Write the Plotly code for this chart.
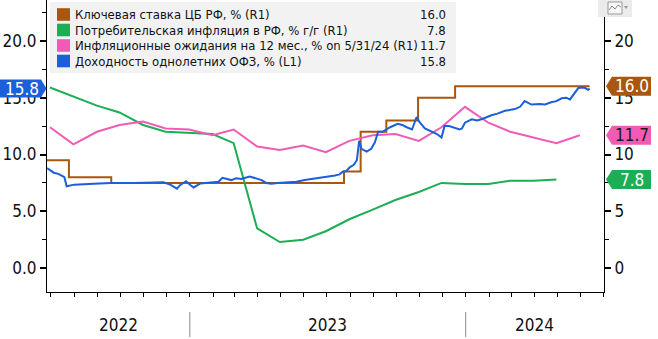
import plotly.graph_objects as go

# ---------------- data ----------------
key_rate_dates = ["2022-06-26", "2022-07-25", "2022-09-19", "2023-07-24", "2023-08-15",
                  "2023-09-18", "2023-10-30", "2023-12-18", "2024-06-13"]
key_rate_values = [9.5, 8.0, 7.5, 8.5, 12.0, 13.0, 15.0, 16.0, 16.0]

cpi_dates = ["2022-06-30", "2022-07-31", "2022-08-31", "2022-09-30", "2022-10-31", "2022-11-30",
             "2022-12-31", "2023-01-31", "2023-02-28", "2023-03-31", "2023-04-30", "2023-05-31",
             "2023-06-30", "2023-07-31", "2023-08-31", "2023-09-30", "2023-10-31", "2023-11-30",
             "2023-12-31", "2024-01-31", "2024-02-29", "2024-03-31", "2024-04-30"]
cpi_values = [15.9, 15.1, 14.3, 13.7, 12.6, 12.0, 11.9, 11.8, 11.0, 3.5, 2.3, 2.5,
              3.25, 4.3, 5.15, 6.0, 6.7, 7.5, 7.4, 7.4, 7.7, 7.7, 7.8]

exp_dates = ["2022-06-30", "2022-07-31", "2022-08-31", "2022-09-30", "2022-10-31", "2022-11-30",
             "2022-12-31", "2023-01-31", "2023-02-28", "2023-03-31", "2023-04-30", "2023-05-31",
             "2023-06-30", "2023-07-31", "2023-08-31", "2023-09-30", "2023-10-31", "2023-11-30",
             "2023-12-31", "2024-01-31", "2024-02-29", "2024-03-31", "2024-04-30", "2024-05-31"]
exp_values = [12.4, 10.9, 12.0, 12.6, 12.9, 12.3, 12.2, 11.7, 12.2, 10.7, 10.4, 10.8,
              10.2, 11.2, 11.7, 11.8, 11.2, 12.4, 14.2, 12.8, 12.0, 11.5, 11.0, 11.7]

ofz_dates = ["2022-06-26", "2022-07-01", "2022-07-05", "2022-07-11", "2022-07-15", "2022-07-19",
             "2022-07-22", "2022-07-26", "2022-08-01", "2022-08-20", "2022-09-18", "2022-10-20",
             "2022-11-27", "2022-12-06", "2022-12-15", "2022-12-19", "2022-12-27", "2023-01-02",
             "2023-01-06", "2023-01-15", "2023-02-03", "2023-02-08", "2023-02-13", "2023-02-19",
             "2023-02-25", "2023-03-03", "2023-03-10", "2023-03-21", "2023-03-28", "2023-04-06",
             "2023-04-12", "2023-04-19", "2023-04-27", "2023-05-11", "2023-05-22", "2023-06-02",
             "2023-06-13", "2023-06-24", "2023-07-05", "2023-07-12", "2023-07-18", "2023-07-23",
             "2023-07-27", "2023-08-01", "2023-08-06", "2023-08-10", "2023-08-13", "2023-08-16",
             "2023-08-23", "2023-08-29", "2023-09-03", "2023-09-07", "2023-09-13", "2023-09-23",
             "2023-10-03", "2023-10-09", "2023-10-15", "2023-10-22", "2023-10-28", "2023-11-01",
             "2023-11-08", "2023-11-17", "2023-11-24", "2023-11-30", "2023-12-04", "2023-12-10",
             "2023-12-15", "2023-12-24", "2023-12-27", "2023-12-31", "2024-01-09", "2024-01-16",
             "2024-01-22", "2024-01-29", "2024-02-04", "2024-02-12", "2024-02-22", "2024-03-06",
             "2024-03-13", "2024-03-19", "2024-03-28", "2024-04-08", "2024-04-15", "2024-04-23",
             "2024-04-30", "2024-05-07", "2024-05-13", "2024-05-18", "2024-05-25", "2024-05-29",
             "2024-06-03", "2024-06-07", "2024-06-11", "2024-06-13"]
ofz_values = [8.8, 8.6, 8.4, 8.3, 8.15, 8.0,
              7.2, 7.25, 7.35, 7.4, 7.5, 7.5,
              7.55, 7.35, 7.0, 7.3, 7.65, 7.3,
              7.1, 7.45, 7.55, 7.6, 7.95, 7.85,
              7.75, 7.9, 7.85, 8.07, 7.9, 7.75,
              7.5, 7.42, 7.5, 7.55, 7.6, 7.75,
              7.85, 8.0, 8.05, 8.15, 8.25, 8.5,
              8.55, 8.9, 9.1, 9.5, 11.2, 10.5,
              10.26, 10.5, 11.1, 12.0, 12.0, 12.4,
              12.7, 12.6, 12.4, 12.2, 13.3, 12.85,
              12.3, 12.0, 11.8, 11.5, 12.5, 12.5,
              12.4, 12.2, 12.3, 12.8, 13.1, 13.0,
              13.1, 13.3, 13.45, 13.6, 13.85, 14.0,
              14.2, 14.7, 14.4, 14.45, 14.4, 14.6,
              14.7, 14.95, 15.0, 14.85, 15.5, 15.85,
              15.9, 15.85, 15.7, 15.8]

series_names = ["Ключевая ставка ЦБ РФ, % (R1)",
                "Потребительская инфляция в РФ, % г/г (R1)",
                "Инфляционные ожидания на 12 мес., % on 5/31/24 (R1)",
                "Доходность однолетних ОФЗ, % (L1)"]
series_colors = ["#A9560E", "#1DAE55", "#F15BB5", "#1C5FDA"]
badge_text_colors = ["#FFFFFF", "#FFFFFF", "#1A1A1A", "#FFFFFF"]

year_labels = ["2022", "2023", "2024"]
year_bounds = ["2022-06-26", "2023-01-01", "2024-01-01", "2024-07-02"]

left_ticks = [0, 5, 10, 15, 20]
right_ticks = [0, 5, 10, 15, 20]

FONT = "DejaVu Sans Condensed, Liberation Sans, Arial, sans-serif"
Y_RANGE = [-2.1, 23.6]

# ---------------- figure ----------------
fig = go.Figure()

fig.add_trace(go.Scatter(x=key_rate_dates, y=key_rate_values, mode="lines", line_shape="hv",
                         line=dict(color=series_colors[0], width=2), yaxis="y", name=series_names[0]))
fig.add_trace(go.Scatter(x=cpi_dates, y=cpi_values, mode="lines",
                         line=dict(color=series_colors[1], width=2), yaxis="y", name=series_names[1]))
fig.add_trace(go.Scatter(x=exp_dates, y=exp_values, mode="lines",
                         line=dict(color=series_colors[2], width=2), yaxis="y", name=series_names[2]))
fig.add_trace(go.Scatter(x=ofz_dates, y=ofz_values, mode="lines",
                         line=dict(color=series_colors[3], width=2), yaxis="y2", name=series_names[3]))

last_values = [key_rate_values[-1], cpi_values[-1], exp_values[-1], ofz_values[-1]]

fig.update_layout(
    width=658, height=339, autosize=False,
    margin=dict(l=47, r=54, t=0, b=47, pad=0),
    paper_bgcolor="white", plot_bgcolor="white",
    showlegend=False,
    font=dict(family=FONT, size=17, color="#111111"),
    xaxis=dict(
        type="date", range=[year_bounds[0], year_bounds[-1]],
        showgrid=False, zeroline=False, showline=True, linecolor="#000000", linewidth=1,
        ticks="outside", ticklen=4, tickwidth=1, tickcolor="#000000",
        dtick="M1", tick0="2022-07-01", showticklabels=False,
    ),
    yaxis=dict(  # right axis (R1)
        side="right", range=Y_RANGE, tickvals=right_ticks, ticktext=[str(v) for v in right_ticks],
        showgrid=False, zeroline=False, showline=True, linecolor="#000000", linewidth=1,
        ticks="outside", ticklen=6, tickwidth=2, tickcolor="#000000",
        minor=dict(tickvals=[2.5, 7.5, 12.5, 17.5, 22.5], ticks="outside", ticklen=4,
                   tickwidth=1, tickcolor="#000000"),
        tickfont=dict(size=17, family=FONT, color="#111111"),
    ),
    yaxis2=dict(  # left axis (L1)
        side="left", overlaying="y", range=Y_RANGE, tickvals=left_ticks,
        ticktext=["%.1f" % v for v in left_ticks],
        showgrid=False, zeroline=False, showline=True, linecolor="#000000", linewidth=1,
        ticks="outside", ticklen=6, tickwidth=2, tickcolor="#000000",
        minor=dict(tickvals=[2.5, 7.5, 12.5, 17.5, 22.5], ticks="outside", ticklen=4,
                   tickwidth=1, tickcolor="#000000"),
        tickfont=dict(size=17, family=FONT, color="#111111"),
    ),
)

shapes = []
annotations = []

# legend box
shapes.append(dict(type="rect", xref="paper", yref="paper", xsizemode="pixel", ysizemode="pixel",
                   xanchor=0, yanchor=1, x0=3, x1=409, y0=-2, y1=-73,
                   fillcolor="#F2F2F2", line=dict(width=0), layer="above"))
row_centers = [14.5, 30, 45.5, 61]
for i, name in enumerate(series_names):
    c = row_centers[i]
    shapes.append(dict(type="rect", xref="paper", yref="paper", xsizemode="pixel", ysizemode="pixel",
                       xanchor=0, yanchor=1, x0=10, x1=23, y0=-(c - 6.3), y1=-(c + 6.3),
                       fillcolor=series_colors[i], line=dict(width=0), layer="above"))
    annotations.append(dict(text=name, xref="paper", yref="paper", x=0, y=1, xshift=26,
                            yshift=-c, xanchor="left", yanchor="middle", showarrow=False,
                            font=dict(size=13, family=FONT, color="#111111")))
    annotations.append(dict(text="%.1f" % last_values[i], xref="paper", yref="paper", x=0, y=1,
                            xshift=401, yshift=-c, xanchor="right", yanchor="middle",
                            showarrow=False, font=dict(size=13, family=FONT, color="#111111")))

# value badges on the right axis (R1 series)
for i in range(3):
    v = last_values[i]
    shapes.append(dict(type="path", xref="paper", yref="y", xsizemode="pixel", ysizemode="pixel",
                       xanchor=1, yanchor=v, path="M2,0 L8,9.5 L47,9.5 L47,-9.5 L8,-9.5 Z",
                       fillcolor=series_colors[i], line=dict(width=0), layer="above"))
    annotations.append(dict(text="%.1f" % v, xref="paper", yref="y", x=1, y=v, xshift=28,
                            xanchor="center", yanchor="middle", showarrow=False,
                            font=dict(size=17, family=FONT, color=badge_text_colors[i])))

# value badge on the left axis (L1 series)
v = last_values[3]
shapes.append(dict(type="path", xref="paper", yref="y2", xsizemode="pixel", ysizemode="pixel",
                   xanchor=0, yanchor=v, path="M-47,-9 L-6,-9 L-0.5,0 L-6,9 L-47,9 Z",
                   fillcolor=series_colors[3], line=dict(width=0), layer="above"))
annotations.append(dict(text="%.1f" % v, xref="paper", yref="y2", x=0, y=v, xshift=-25,
                        xanchor="center", yanchor="middle", showarrow=False,
                        font=dict(size=17, family=FONT, color=badge_text_colors[3])))

# year labels and separators under the axis
import pandas as pd
for i, lab in enumerate(year_labels):
    a = pd.Timestamp(year_bounds[i])
    b = pd.Timestamp(year_bounds[i + 1])
    mid = a + (b - a) / 2
    annotations.append(dict(text=lab, xref="x", yref="paper", x=mid.strftime("%Y-%m-%d %H:%M"),
                            y=0, yshift=-33, xanchor="center", yanchor="middle", showarrow=False,
                            font=dict(size=17, family=FONT, color="#111111")))
for d in year_bounds[1:-1]:
    shapes.append(dict(type="line", xref="x", yref="paper", ysizemode="pixel", yanchor=0,
                       x0=d, x1=d, y0=-20, y1=-45, line=dict(color="#8A8A8A", width=1)))

# small chart icon in the top-right corner
shapes.append(dict(type="rect", xref="paper", yref="paper", xsizemode="pixel", ysizemode="pixel",
                   xanchor=1, yanchor=1, x0=-6, x1=28, y0=0, y1=-17,
                   fillcolor="#EBEBEB", line=dict(width=0), layer="above"))
shapes.append(dict(type="rect", xref="paper", yref="paper", xsizemode="pixel", ysizemode="pixel",
                   xanchor=1, yanchor=1, x0=4, x1=18, y0=-2, y1=-14,
                   fillcolor="#F8F8F8", line=dict(color="#9A9A9A", width=1), layer="above"))
shapes.append(dict(type="path", xref="paper", yref="paper", xsizemode="pixel", ysizemode="pixel",
                   xanchor=1, yanchor=1, path="M5,-10 L8,-6 L11,-9 L14,-5 L17,-7",
                   line=dict(color="#8A8A8A", width=1), layer="above"))
shapes.append(dict(type="path", xref="paper", yref="paper", xsizemode="pixel", ysizemode="pixel",
                   xanchor=1, yanchor=1, path="M20,-6 L24,-6 L22,-9 Z",
                   fillcolor="#9A9A9A", line=dict(width=0), layer="above"))

fig.update_layout(shapes=shapes, annotations=annotations)

fig.write_html("out.html")
